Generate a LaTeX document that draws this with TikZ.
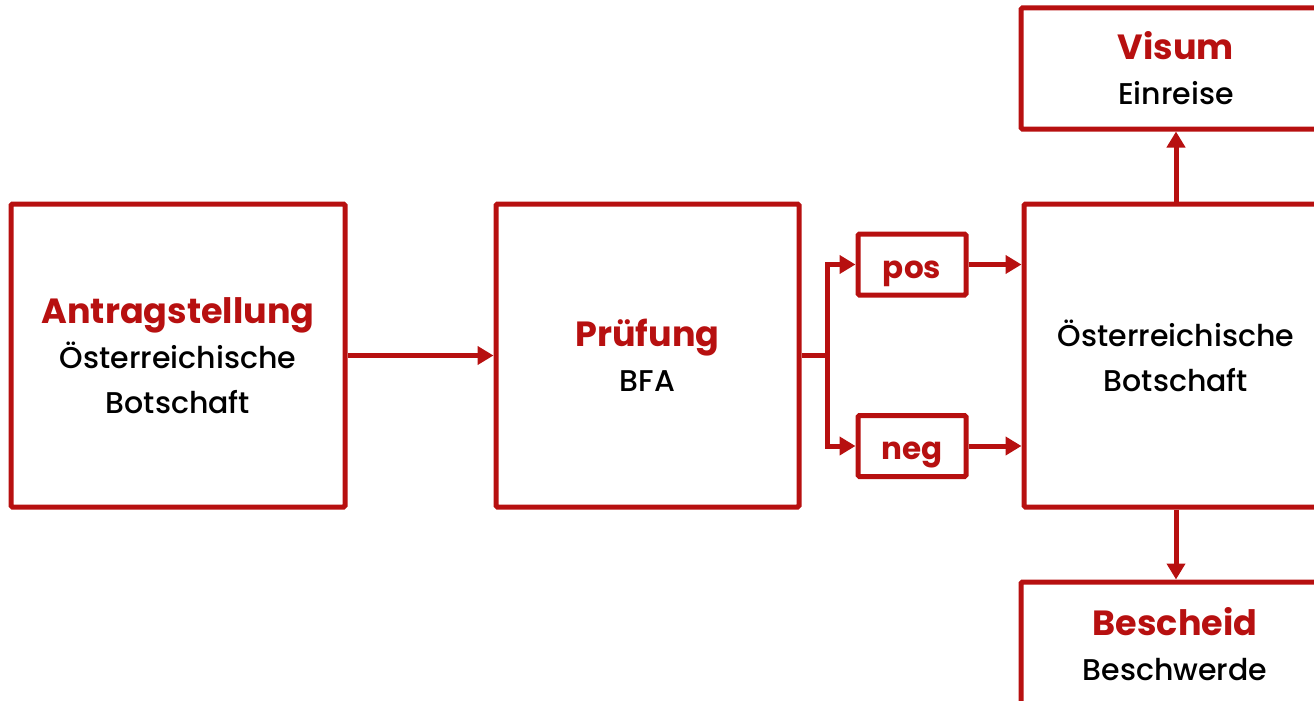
\documentclass[tikz,border=0pt]{standalone}
\usepackage{fontspec}
\setmainfont{Poppins}[UprightFont=* Medium,BoldFont=* Bold]
\usetikzlibrary{arrows.meta,positioning}
\definecolor{rot}{HTML}{B71010}
\newcommand\titel[1]{{\color{rot}\fontsize{35}{45}\selectfont\bfseries #1}}

\begin{document}
\begin{tikzpicture}[x=1pt,y=-1pt,
  rahmen/.style={draw=rot,line width=5pt,rounded corners=1.5pt,inner sep=0pt},
  kasten/.style={rahmen,align=center,font=\fontsize{30}{45}\selectfont},
  klein/.style={rahmen,minimum width=108pt,minimum height=61pt,text height=27pt,text depth=0pt,
    font=\fontsize{31}{31}\selectfont\bfseries,text=rot},
  pfeil/.style={draw=rot,line width=5pt,-{Triangle[length=16pt,width=18pt]}}]
\clip (0,0) rectangle (1314,701);
%Kaesten
\node[kasten,minimum width=334pt,minimum height=303pt] (antrag) at (178,355.5) {\titel{Antragstellung}\\Österreichische\\Botschaft};
\node[kasten,minimum width=303pt,minimum height=303pt] (pruef) at (647.5,355.5) {\titel{Prüfung}\\BFA};
\node[klein] (pos) at (912,264.5) {pos};
\node[klein] (neg) at (912,446) {neg};
\node[kasten,minimum width=304pt,minimum height=303pt] (bot) at (1176,355.5) {Österreichische\\Botschaft};
\node[kasten,minimum width=310pt,minimum height=121pt] (visum) at (1176,68.5) {\titel{Visum}\\Einreise};
\node[kasten,minimum width=308pt,minimum height=124pt] (bescheid) at (1175,644) {\titel{Bescheid}\\Beschwerde};
\coordinate (gabel) at (827,355.5);
%Pfeile
\draw[pfeil] (antrag) -- (pruef);
\draw[rot,line width=5pt] (pruef.east) -- (gabel);
\draw[pfeil] (gabel) |- (pos.west);
\draw[pfeil] (gabel) |- (neg.west);
\draw[pfeil] (pos.east) -- (pos.east -| bot.west);
\draw[pfeil] (neg.east) -- (neg.east -| bot.west);
\draw[pfeil] (bot.north) -- (visum.south);
\draw[pfeil] (bot.south) -- (bot.south |- bescheid.north);
\end{tikzpicture}
\end{document}
